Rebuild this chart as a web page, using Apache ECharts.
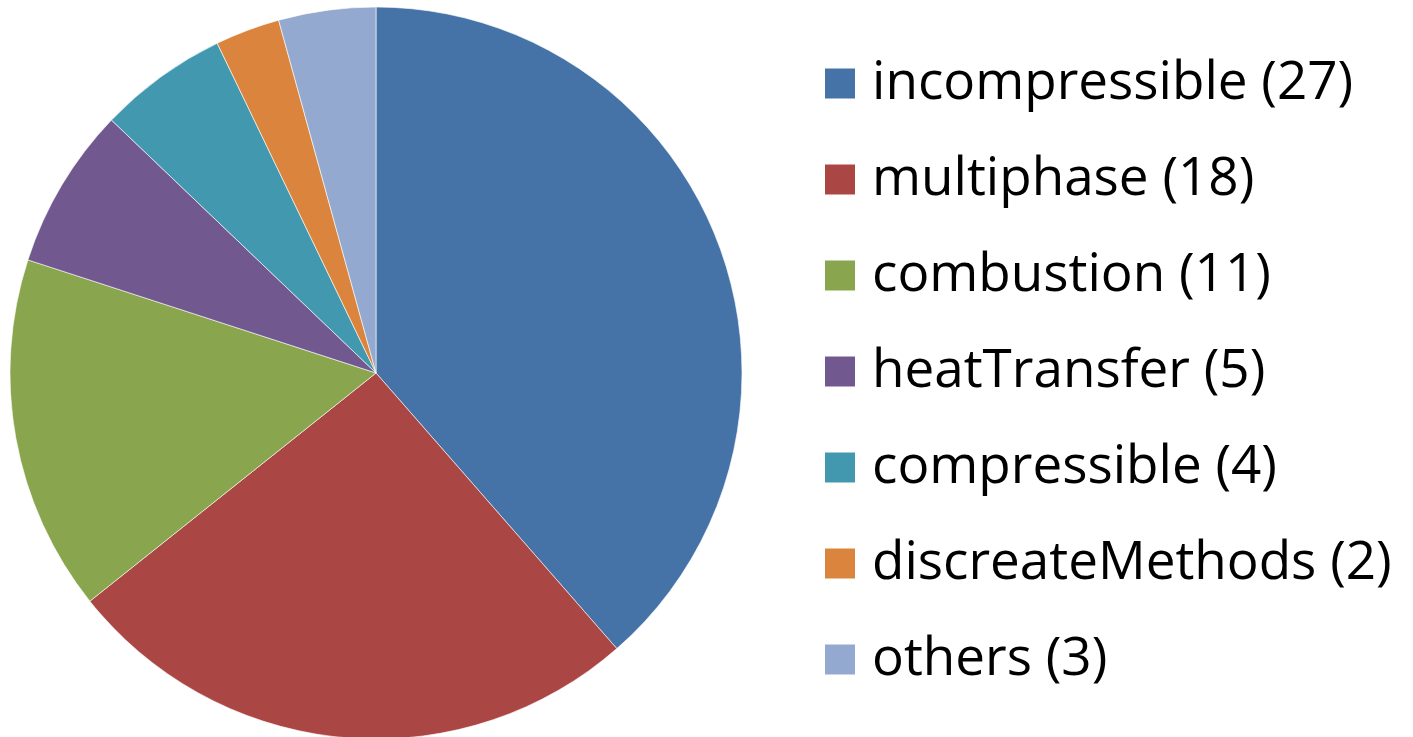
<!DOCTYPE html>
<html>
<head>
<meta charset="utf-8">
<script src="https://cdn.jsdelivr.net/npm/echarts@6/dist/echarts.min.js"></script>
<style>
html,body{margin:0;padding:0;background:#fff;}
#chart{width:1413px;height:737px;}
</style>
</head>
<body>
<div id="chart"></div>
<script>
var categories = ['incompressible', 'multiphase', 'combustion', 'heatTransfer', 'compressible', 'discreateMethods', 'others'];
var counts = [27, 18, 11, 5, 4, 2, 3];
var colors = ['#4572A7', '#AA4643', '#89A54E', '#71588F', '#4198AF', '#DB843D', '#93A9CF'];

var data = categories.map(function (c, i) {
  return { name: c + ' (' + counts[i] + ')', value: counts[i] };
});

var chart = echarts.init(document.getElementById('chart'), null, { renderer: 'canvas' });
chart.setOption({
  animation: false,
  color: colors,
  legend: {
    orient: 'vertical',
    left: 818,
    top: 52,
    height: 700,
    itemWidth: 32,
    itemHeight: 32,
    itemGap: 43,
    icon: 'rect',
    textStyle: {
      fontFamily: 'Open Sans',
      fontSize: 53,
      color: '#000',
      padding: [0, 0, 0, 11]
    },
    data: data.map(function (d) { return d.name; })
  },
  series: [{
    type: 'pie',
    center: [376, 373],
    radius: [0, 366],
    startAngle: 90,
    clockwise: true,
    label: { show: false },
    labelLine: { show: false },
    itemStyle: { borderColor: '#fff', borderWidth: 0.6 },
    emphasis: { disabled: true },
    data: data
  }]
});
</script>
</body>
</html>
